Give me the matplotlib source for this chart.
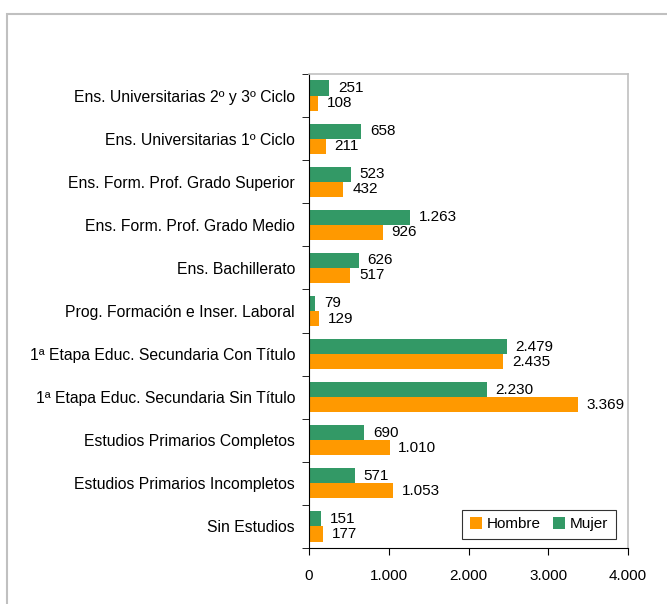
import matplotlib
matplotlib.use('Agg')
import matplotlib.pyplot as plt
from matplotlib.patches import Rectangle
import numpy as np

plt.rcParams['font.family'] = ['Liberation Sans', 'DejaVu Sans']

categories = [
    'Ens. Universitarias 2º y 3º Ciclo',
    'Ens. Universitarias 1º Ciclo',
    'Ens. Form. Prof. Grado Superior',
    'Ens. Form. Prof. Grado Medio',
    'Ens. Bachillerato',
    'Prog. Formación e Inser. Laboral',
    '1ª Etapa Educ. Secundaria Con Título',
    '1ª Etapa Educ. Secundaria Sin Título',
    'Estudios Primarios Completos',
    'Estudios Primarios Incompletos',
    'Sin Estudios',
]
mujer = [251, 658, 523, 1263, 626, 79, 2479, 2230, 690, 571, 151]
hombre = [108, 211, 432, 926, 517, 129, 2435, 3369, 1010, 1053, 177]
xticks = [0, 1000, 2000, 3000, 4000]

c_h = '#FF9900'
c_m = '#339966'


def fmt(v):
    return f'{v:,}'.replace(',', '.')


fig = plt.figure(figsize=(6.67, 6.04), dpi=100)
# outer chart border
fig.patches.append(Rectangle((7 / 667, -0.01), 1.0, 1 - 14 / 604 + 0.01,
                             transform=fig.transFigure, fill=False,
                             edgecolor='#c0c0c0', linewidth=1.5))

ax = fig.add_axes([309 / 667, 1 - 548 / 604, 319 / 667, 474 / 604])

n = len(categories)
y = np.arange(n)[::-1]
h = 0.35
ax.barh(y + h / 2, mujer, height=h, color=c_m, label='Mujer')
ax.barh(y - h / 2, hombre, height=h, color=c_h, label='Hombre')

for yi, v in zip(y, mujer):
    ax.text(v + 110, yi + h / 2, fmt(v), va='center', ha='left', fontsize=11)
for yi, v in zip(y, hombre):
    ax.text(v + 110, yi - h / 2, fmt(v), va='center', ha='left', fontsize=11)

ax.set_xlim(0, 4000)
ax.set_ylim(-0.5, n - 0.5)
ax.set_xticks(xticks)
ax.set_xticklabels([fmt(t) for t in xticks], fontsize=11)
ax.set_yticks(y)
ax.set_yticklabels(categories, fontsize=11.3)
ax.set_yticks(np.arange(n + 1) - 0.5, minor=True)
ax.tick_params(axis='y', which='major', length=0, pad=10)
ax.tick_params(axis='y', which='minor', length=5, direction='out')
ax.tick_params(axis='x', length=5, direction='out', pad=10)

for s in ['top', 'right']:
    ax.spines[s].set_color('#c0c0c0')
    ax.spines[s].set_linewidth(1.2)
for s in ['left', 'bottom']:
    ax.spines[s].set_color('black')

handles, labels = ax.get_legend_handles_labels()
leg = ax.legend(handles[::-1], labels[::-1], loc='lower right',
                bbox_to_anchor=(0.985, 0.003), ncol=2, fontsize=11,
                frameon=True, fancybox=False, edgecolor='black',
                handlelength=0.8, handleheight=0.8, handletextpad=0.3,
                columnspacing=0.8, borderpad=0.5)
leg.get_frame().set_linewidth(0.8)

fig.savefig('out.png', dpi=100)
